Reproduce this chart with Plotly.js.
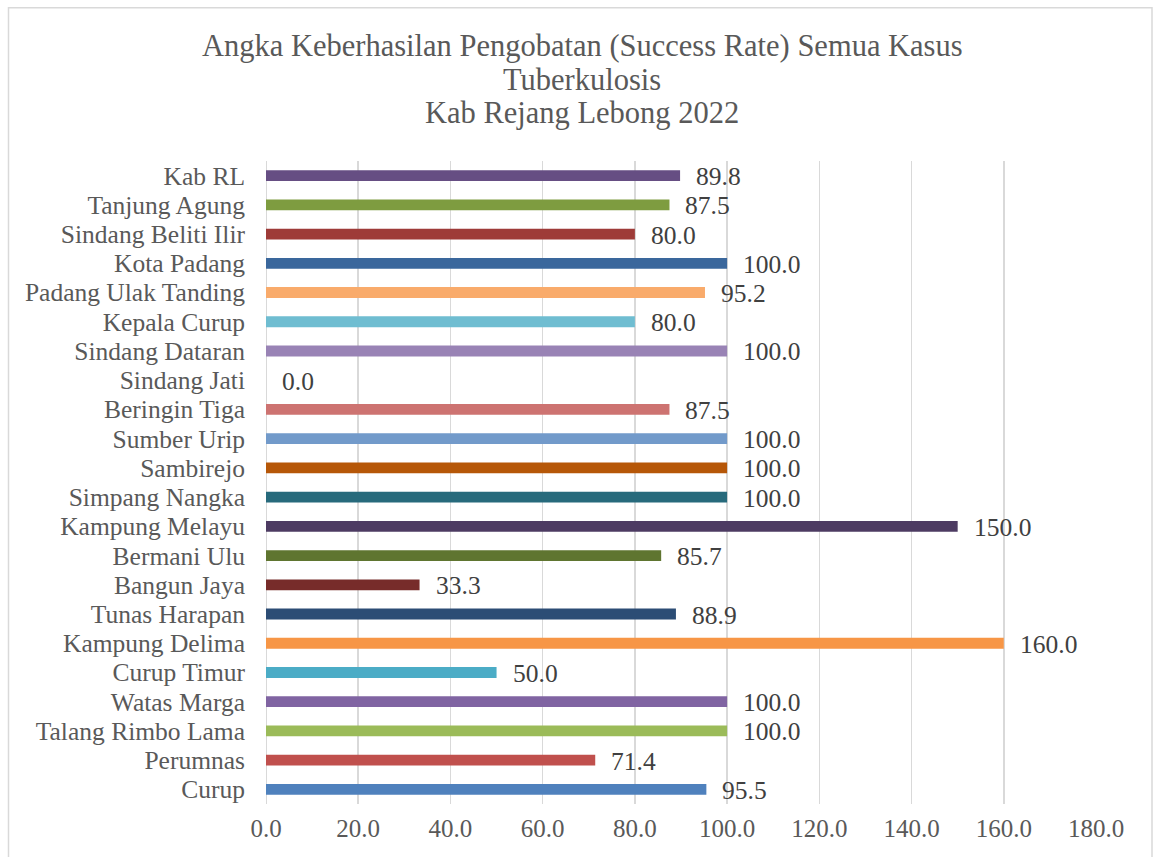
<!DOCTYPE html>
<html>
<head>
<meta charset="utf-8">
<script src="https://cdn.plot.ly/plotly-3.0.1.min.js"></script>
<style>html,body{margin:0;padding:0;background:#fff;}#chart{width:1154px;height:857px;}</style>
</head>
<body>
<div id="chart"></div>
<script>
// Categories from bottom to top
const categories = ["Curup","Perumnas","Talang Rimbo Lama","Watas Marga","Curup Timur","Kampung Delima","Tunas Harapan","Bangun Jaya","Bermani Ulu","Kampung Melayu","Simpang Nangka","Sambirejo","Sumber Urip","Beringin Tiga","Sindang Jati","Sindang Dataran","Kepala Curup","Padang Ulak Tanding","Kota Padang","Sindang Beliti Ilir","Tanjung Agung","Kab RL"];
const values = [95.5,71.4,100.0,100.0,50.0,160.0,88.9,33.3,85.7,150.0,100.0,100.0,100.0,87.5,0.0,100.0,80.0,95.2,100.0,80.0,87.5,89.8];
const barColors = ["#4F81BD","#C0504D","#9BBB59","#8064A2","#4BACC6","#F79646","#2C4D75","#772C2A","#5F7530","#4D3B62","#276A7C","#B65708","#729ACA","#CD7371","#AFC97A","#9983B5","#6FBDD1","#F9AB6B","#3A679C","#9E3B38","#7E9C40","#664E83"];
const titleLines = ["Angka Keberhasilan Pengobatan (Success Rate) Semua Kasus","Tuberkulosis","Kab Rejang Lebong 2022"];
const xTickVals = [0,20,40,60,80,100,120,140,160,180];

const FONT = "Liberation Serif, Times New Roman, serif";
const TXT = "#595959";

const trace = {
  type: "bar",
  orientation: "h",
  x: values,
  y: categories,
  width: 0.37,
  marker: {color: barColors},
  hoverinfo: "x+y"
};

const annotations = values.map((v, i) => ({
  x: v, y: categories[i], xref: "x", yref: "y",
  text: v.toFixed(1), showarrow: false,
  xanchor: "left", yanchor: "middle", xshift: 14, yshift: -1,
  font: {family: FONT, size: 25.5, color: "#404040"}
}));

const titleY = [45, 79, 112];
titleLines.forEach((t, i) => {
  annotations.push({
    x: (582 - 266) / 830, y: (804 - titleY[i]) / 644, xref: "paper", yref: "paper",
    text: t, showarrow: false, xanchor: "center", yanchor: "middle",
    font: {family: FONT, size: 30.5, color: TXT}
  });
});

const layout = {
  width: 1154, height: 857,
  margin: {l: 266, r: 58, t: 161, b: 53},
  paper_bgcolor: "#ffffff",
  plot_bgcolor: "#ffffff",
  showlegend: false,
  xaxis: {
    range: [0, 180],
    tickvals: xTickVals,
    ticktext: xTickVals.map(v => v.toFixed(1)),
    showgrid: true, gridcolor: "#D9D9D9", gridwidth: 1.6,
    zeroline: false, showline: false, ticks: "",
    tickfont: {family: FONT, size: 25, color: TXT},
    ticklabelstandoff: 7,
    fixedrange: true
  },
  yaxis: {
    type: "category",
    range: [-0.5, 21.5],
    tickmode: "array",
    tickvals: categories,
    ticktext: categories,
    showgrid: false, zeroline: false, showline: false, ticks: "",
    tickfont: {family: FONT, size: 25.5, color: TXT},
    ticklabelstandoff: 20,
    fixedrange: true
  },
  shapes: [
    {type: "line", xref: "x", yref: "paper", x0: 0, x1: 0, y0: 0, y1: 1, line: {color: "#D9D9D9", width: 2}, layer: "below"},
    {type: "rect", xref: "paper", yref: "paper",
     x0: (8.5 - 266) / 830, x1: (1152 - 266) / 830,
     y0: (804 - 870) / 644, y1: (804 - 6.5) / 644,
     line: {color: "#D9D9D9", width: 1.5}, fillcolor: "rgba(0,0,0,0)", layer: "below"}
  ],
  annotations: annotations
};

Plotly.newPlot("chart", [trace], layout, {displayModeBar: false, staticPlot: true});
</script>
</body>
</html>
